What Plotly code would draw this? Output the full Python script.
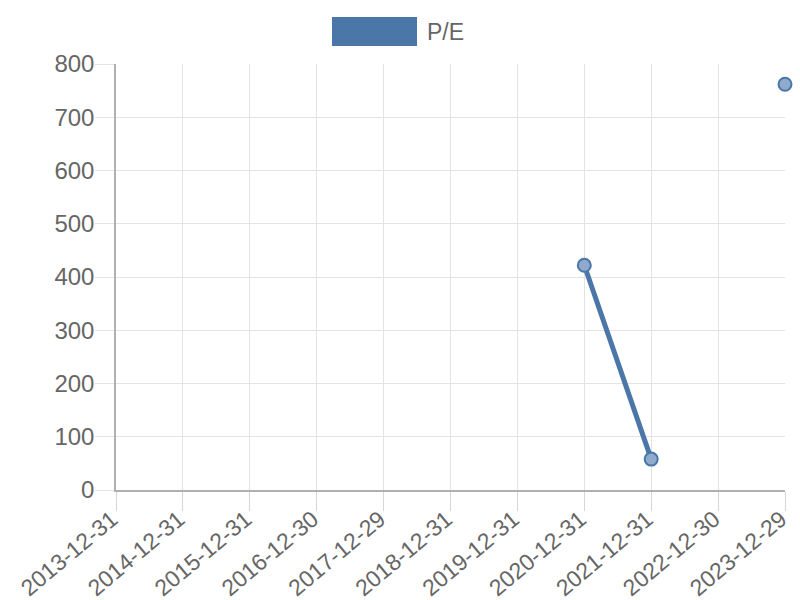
import plotly.graph_objects as go

dates = ["2013-12-31", "2014-12-31", "2015-12-31", "2016-12-30", "2017-12-29",
         "2018-12-31", "2019-12-31", "2020-12-31", "2021-12-31", "2022-12-30",
         "2023-12-29"]
pe = [None, None, None, None, None, None, None, 422, 58, None, 762]

LINE = "#4a76a8"
FILL = "#90aacb"
FONT = "Liberation Sans, Arial, sans-serif"
FS = 23

fig = go.Figure()
fig.add_trace(go.Scatter(
    x=dates, y=pe, mode="lines+markers", name="P/E",
    line=dict(color=LINE, width=5),
    marker=dict(size=13, color=FILL, line=dict(color=LINE, width=2)),
    connectgaps=False, cliponaxis=False, showlegend=False,
))

fig.update_layout(
    width=800, height=600, autosize=False,
    margin=dict(l=116, r=15, t=64, b=110, autoexpand=False),
    paper_bgcolor="white", plot_bgcolor="white",
    font=dict(family=FONT, size=FS, color="#666666"),
    xaxis=dict(type="category", range=[0, 10], showgrid=True, gridcolor="#e3e3e3",
               gridwidth=1, showline=True, linecolor="#b0b0b0", linewidth=1.5,
               ticks="outside", ticklen=19, tickcolor="#d6d6d6", tickwidth=1,
               tickangle=-40, tickfont=dict(size=23, color="#666666"), zeroline=False,
               automargin=False, ticklabelstandoff=-14, ticklabelshift=-4),
    yaxis=dict(range=[0, 800], dtick=100, showgrid=True, gridcolor="#e3e3e3",
               gridwidth=1, showline=True, linecolor="#b0b0b0", linewidth=1.5,
               ticks="outside", ticklen=19, tickcolor="#e3e3e3", tickwidth=1,
               tickfont=dict(size=24, color="#666666"), zeroline=False,
               automargin=False, ticklabelstandoff=-4),
    showlegend=False,
)

# legend drawn as box + label
fig.add_shape(type="rect", xref="paper", yref="paper",
              x0=(332 - 116) / 669, x1=(417 - 116) / 669,
              y0=(490 - 46) / 426, y1=(490 - 17) / 426,
              fillcolor=LINE, line=dict(width=0))
fig.add_annotation(xref="paper", yref="paper", x=(425 - 116) / 669, y=(490 - 32) / 426,
                   text="P/E", showarrow=False, xanchor="left", yanchor="middle",
                   font=dict(family=FONT, size=FS, color="#666666"))

fig.write_html("out.html", config={"displayModeBar": False},
               post_script="document.body.style.margin='0';")
